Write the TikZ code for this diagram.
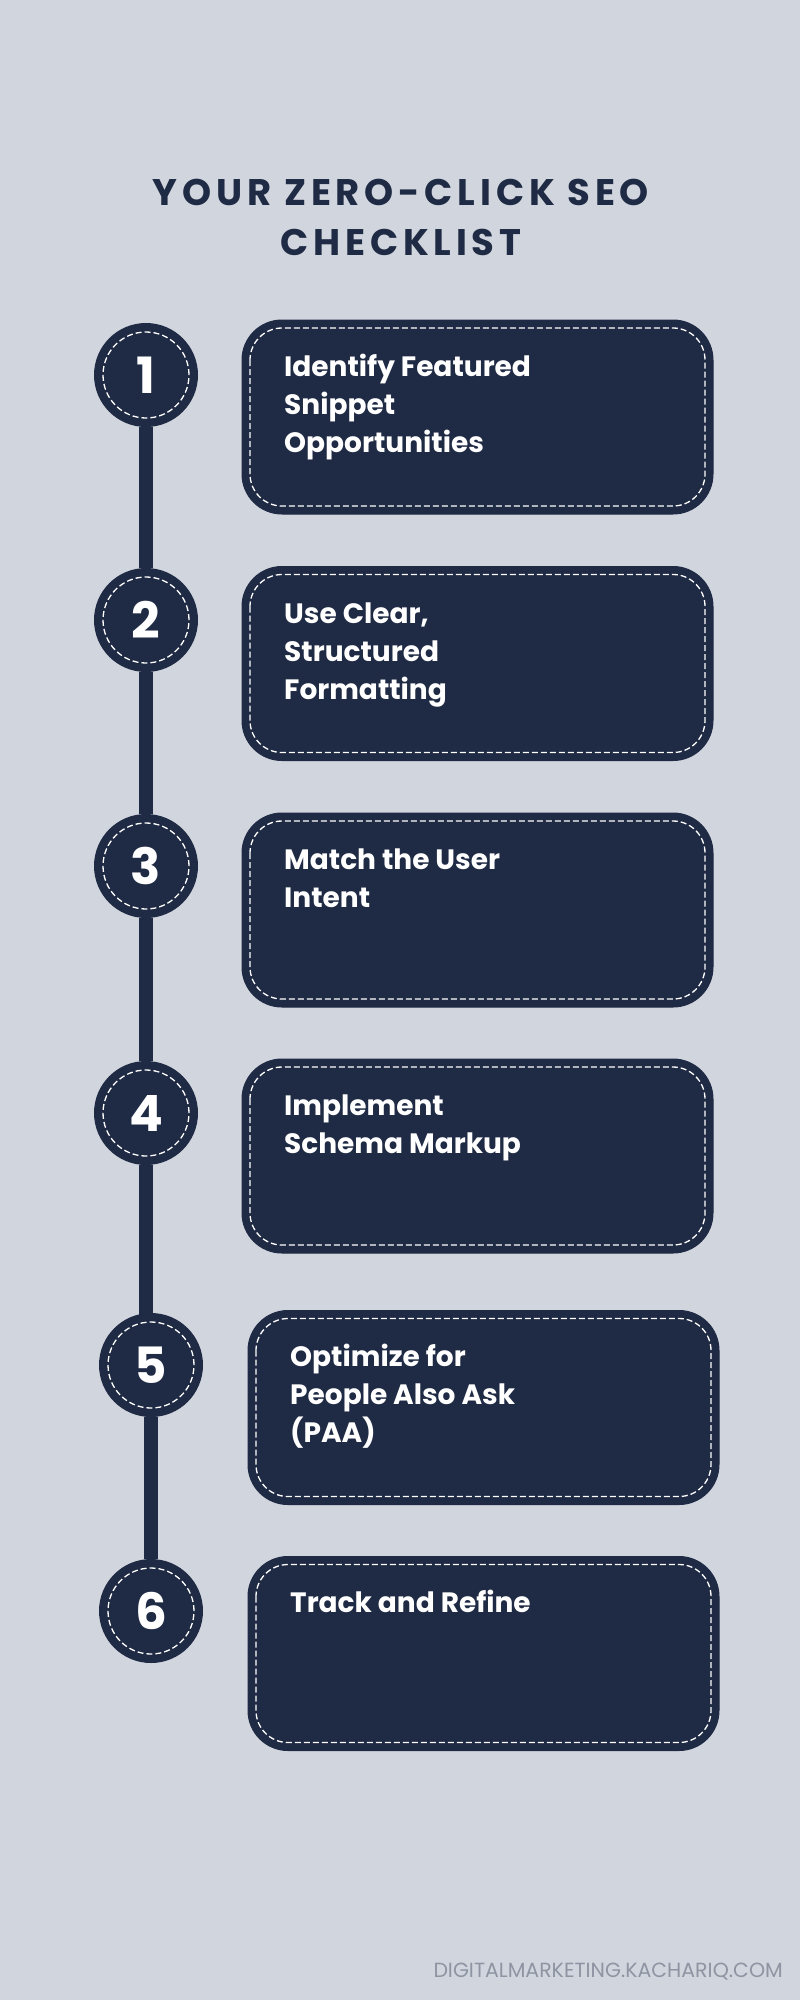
\documentclass[tikz,border=0pt]{standalone}
\usepackage{fontspec}
\setmainfont{Poppins}
\newfontfamily\titlefont{Poppins}[LetterSpace=13]
\definecolor{navy}{HTML}{1F2A44}
\definecolor{bgc}{HTML}{D1D5DD}
\definecolor{footc}{HTML}{8E94A2}
\pgfdeclarelayer{back}
\pgfsetlayers{back,main}
\tikzset{
  dashline/.style={draw=white, line width=1.3pt, dash pattern=on 6pt off 3pt},
  stepcirc/.style={circle, fill=navy, minimum size=104pt, inner sep=0pt, text=white,
    font=\fontsize{50}{50}\selectfont\bfseries,
    path picture={\draw[dashline] (path picture bounding box.center) circle (43pt);}},
  stepbox/.style={rectangle, fill=navy, draw=navy, line width=1pt, rounded corners=40pt,
    minimum width=471pt, minimum height=194pt, inner sep=0pt,
    path picture={\draw[dashline, rounded corners=32pt]
      ([shift={(8pt,-8pt)}]path picture bounding box.north west) rectangle
      ([shift={(-8pt,8pt)}]path picture bounding box.south east);}},
  steptext/.style={anchor=base west, inner sep=0pt, text=white,
    font=\fontsize{28}{38}\selectfont\bfseries},
  conn/.style={draw=navy, line width=13.3pt},
}
\begin{document}
\begin{tikzpicture}[x=1pt,y=-1pt]
% circles
\node[stepcirc] (c1) at (146,375) {1};
\node[stepcirc] (c2) at (146,620) {2};
\node[stepcirc] (c3) at (146,866) {3};
\node[stepcirc] (c4) at (146,1113) {4};
\node[stepcirc] (c5) at (151,1365) {5};
\node[stepcirc] (c6) at (151,1611) {6};
\coordinate (j45) at (c4 |- c5);
\begin{pgfonlayer}{back}
\fill[bgc] (0,0) rectangle (800,2000);
\draw[conn] (c1) -- (c2);
\draw[conn] (c2) -- (c3);
\draw[conn] (c3) -- (c4);
\draw[conn] (c4) -- (j45);
\draw[conn] (c5) -- (c6);
\end{pgfonlayer}
% boxes
\node[stepbox] (b1) at (477.5,417) {};
\node[stepbox] (b2) at (477.5,663.5) {};
\node[stepbox] (b3) at (477.5,910) {};
\node[stepbox] (b4) at (477.5,1156) {};
\node[stepbox] (b5) at (483.5,1407.5) {};
\node[stepbox] (b6) at (483.5,1653.5) {};
% box texts
\node[steptext] (t1) at (284,376) {\begin{tabular}[t]{@{}l@{}}Identify Featured\\Snippet\\Opportunities\end{tabular}};
\node[steptext] (t2) at (284,623) {\begin{tabular}[t]{@{}l@{}}Use Clear,\\Structured\\Formatting\end{tabular}};
\node[steptext] (t3) at (284,869) {\begin{tabular}[t]{@{}l@{}}Match the User\\Intent\end{tabular}};
\node[steptext] (t4) at (284,1115) {\begin{tabular}[t]{@{}l@{}}Implement\\Schema Markup\end{tabular}};
\node[steptext] (t5) at (290,1366) {\begin{tabular}[t]{@{}l@{}}Optimize for\\People Also Ask\\(PAA)\end{tabular}};
\node[steptext] (t6) at (290,1612) {\begin{tabular}[t]{@{}l@{}}Track and Refine\end{tabular}};
% title
\node[anchor=base, inner sep=0pt, text=navy, font=\fontsize{37}{50}\selectfont\titlefont\bfseries] (title) at (401,205)
  {\begin{tabular}[t]{@{}c@{}}YOUR ZERO-CLICK SEO\\CHECKLIST\end{tabular}};
% footer
\node[anchor=base east, inner sep=0pt, text=footc, font=\fontsize{20.5}{21}\selectfont] (foot) at (783,1977) {DIGITALMARKETING.KACHARIQ.COM};
\end{tikzpicture}
\end{document}
